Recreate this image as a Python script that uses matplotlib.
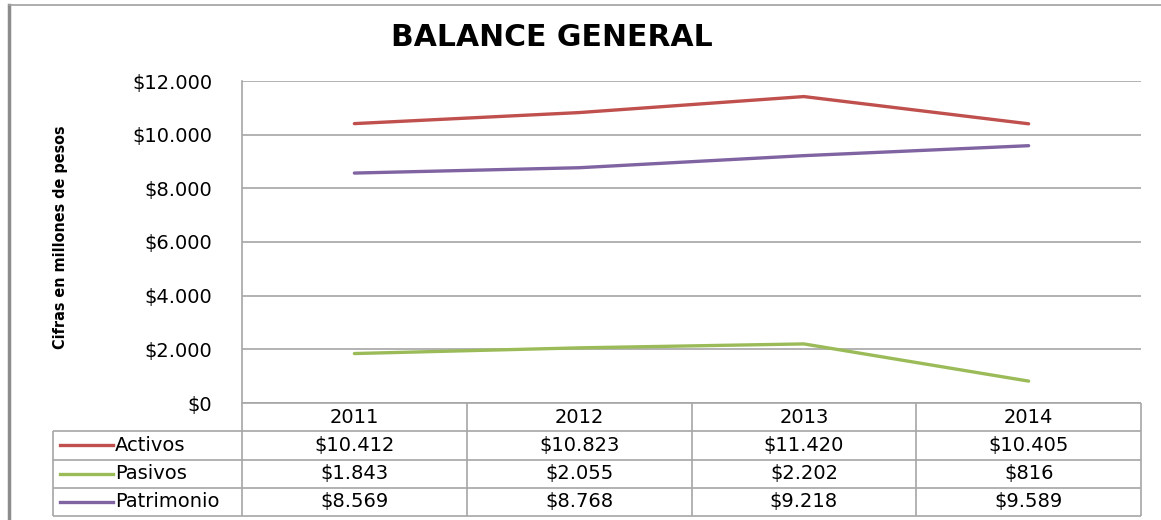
import matplotlib
matplotlib.use("Agg")
import matplotlib.pyplot as plt
from matplotlib import font_manager
from matplotlib.lines import Line2D

# data
years = ["2011", "2012", "2013", "2014"]
activos = [10412, 10823, 11420, 10405]
pasivos = [1843, 2055, 2202, 816]
patrimonio = [8569, 8768, 9218, 9589]
series_names = ["Activos", "Pasivos", "Patrimonio"]
colors = ["#C0504D", "#9BBB59", "#8064A2"]
yticks = [0, 2000, 4000, 6000, 8000, 10000, 12000]


def money(v):
    return "$" + f"{v:,.0f}".replace(",", ".")


W, H = 1161, 520
def fx(p): return p / W
def fy(p): return 1 - p / H

# condensed bold for the axis label, if there is one
label_kw = dict(family="DejaVu Sans", fontsize=10)
fonts = font_manager.fontManager.ttflist
if any(f.name == "Liberation Sans Narrow" for f in fonts):
    label_kw = dict(family="Liberation Sans Narrow", fontsize=12.5)
elif any(f.name == "DejaVu Sans" and f.stretch == "condensed" for f in fonts):
    label_kw = dict(family="DejaVu Sans", fontstretch="condensed", fontsize=11.5)

plt.rcParams["font.family"] = "DejaVu Sans"
fig = plt.figure(figsize=(W / 100, H / 100), dpi=100)

grid_c = "#A6A6A6"
fs = 14

# main plot
ax = fig.add_axes([fx(242), fy(403), (1141 - 242) / W, (403 - 81) / H])
data = [activos, pasivos, patrimonio]
for vals, c in zip(data, colors):
    ax.plot(range(len(years)), vals, color=c, lw=2.4, solid_capstyle="round", zorder=3)
ax.set_xlim(-0.5, 3.5)
ax.set_ylim(0, 12000)
ax.set_yticks(yticks)
ax.set_yticklabels([money(v) for v in yticks], fontsize=fs)
ax.set_xticks([])
ax.grid(axis="y", color=grid_c, lw=1.2)
ax.tick_params(left=False, pad=18)
for s in ["top", "right", "bottom"]:
    ax.spines[s].set_visible(False)
ax.spines["left"].set_color(grid_c)
ax.spines["left"].set_linewidth(1.2)

# data table
cat_w = (1141 - 242) / 4
def px2cat(p): return -0.5 + (p - 242) / cat_w
left = px2cat(53)
tax = fig.add_axes([fx(53), fy(516), (1141 - 53) / W, (516 - 403) / H])
tax.set_xlim(left, 3.5)
tax.set_ylim(4, 0)
tax.axis("off")
tax.hlines(0, -0.5, 3.5, color=grid_c, lw=1.2, clip_on=False)
tax.hlines([1, 2, 3, 4], left, 3.5, color=grid_c, lw=1.2, clip_on=False)
tax.vlines(left, 1, 4, color=grid_c, lw=1.2, clip_on=False)
tax.vlines([-0.5, 0.5, 1.5, 2.5, 3.5], 0, 4, color=grid_c, lw=1.2, clip_on=False)

for i, yr in enumerate(years):
    tax.text(i, 0.5, yr, ha="center", va="center", fontsize=fs)
for r, (name, vals, c) in enumerate(zip(series_names, data, colors)):
    yc = r + 1.5
    tax.plot([px2cat(60), px2cat(113)], [yc, yc], color=c, lw=2.4, clip_on=False)
    tax.text(px2cat(115), yc, name, ha="left", va="center", fontsize=fs)
    for i, v in enumerate(vals):
        tax.text(i, yc, money(v), ha="center", va="center", fontsize=fs)

# title and axis label
fig.text(fx(552), fy(38), "BALANCE GENERAL", ha="center", va="center",
         fontsize=21.5, fontweight="bold")
fig.text(fx(60), fy(237), "Cifras en millones de pesos", rotation=90,
         ha="center", va="center", fontweight="bold", **label_kw)

# chart frame
fig.add_artist(Line2D([fx(9), fx(9)], [fy(5), 0], color="#8C8C8C", lw=2.5))
fig.add_artist(Line2D([fx(9), 1], [fy(5), fy(5)], color="#A0A0A0", lw=1.2))

fig.savefig("out.png", dpi=100, facecolor="white")
